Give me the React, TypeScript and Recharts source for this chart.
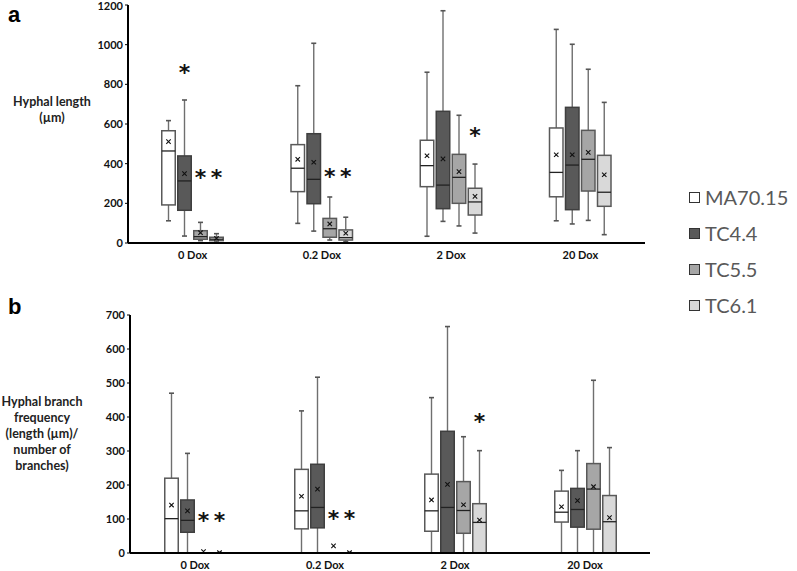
import React from "react";
import { BarChart, Bar, XAxis, YAxis } from "recharts";

const doses = ["0 Dox", "0.2 Dox", "2 Dox", "20 Dox"];
const strains = ["MA70.15", "TC4.4", "TC5.5", "TC6.1"];
const fills = ["#ffffff", "#595959", "#a6a6a6", "#d9d9d9"];

// panel a: hyphal length, [min, q1, median, q3, max] per dose
const lengthMA = [[112, 192, 464, 566, 617], [99, 259, 377, 496, 793], [34, 284, 390, 518, 861], [112, 233, 356, 580, 1077]];
const lengthTC44 = [[35, 165, 313, 439, 721], [60, 198, 321, 551, 1007], [109, 173, 292, 664, 1171], [96, 168, 393, 684, 1002]];
const lengthTC55 = [[12, 19, 32, 62, 104], [15, 29, 72, 124, 232], [86, 200, 331, 447, 644], [114, 262, 422, 568, 876]];
const lengthTC61 = [[5, 12, 19, 29, 47], [8, 15, 27, 66, 130], [50, 141, 207, 276, 398], [42, 185, 256, 442, 709]];
const lengthMeans = [[511, 422, 440, 445], [350, 407, 424, 445], [52, 96, 360, 457], [24, 49, 235, 344]];
const lengthStars = [[null, null, null, null], [877, null, null, null], [350, 355, null, null], [350, 355, 558, null]];
const lengthTicks = [0, 200, 400, 600, 800, 1000, 1200];

// panel b: branch frequency
const branchMA = [[0, 0, 101, 220, 470], [0, 71, 124, 246, 418], [0, 64, 124, 232, 457], [0, 91, 120, 182, 243]];
const branchTC44 = [[0, 61, 96, 156, 293], [0, 74, 134, 261, 517], [0, 0, 134, 358, 666], [0, 76, 128, 190, 301]];
const branchTC55 = [[0, 0, 0, 0, 0], [0, 0, 0, 0, 0], [0, 58, 125, 210, 342], [0, 70, 188, 263, 508]];
const branchTC61 = [[0, 0, 0, 0, 2], [0, 0, 0, 0, 2], [0, 0, 90, 145, 301], [0, 0, 92, 169, 310]];
const branchMeans = [[141, 167, 156, 136], [124, 188, 202, 154], [4, 21, 142, 195], [1, 1, 97, 104]];
const branchStars = [[null, null, null, null], [null, null, null, null], [107, 112, null, null], [107, 112, 398, null]];
const branchTicks = [0, 100, 200, 300, 400, 500, 600, 700];

const font = "Lato, 'Open Sans', sans-serif";

function buildRows(boxes: number[][][], means: number[][], stars: (number | null)[][]) {
  return doses.map((dose, d) => {
    const row: any = { dose };
    strains.forEach((_, s) => {
      const st = boxes[s][d];
      const star = stars[s][d];
      row["s" + s] = { box: st, mean: means[s][d], star, top: Math.max(st[4], means[s][d], star ?? 0) };
    });
    return row;
  });
}

function makeShape(si: number) {
  return (props: any) => {
    const { x, y, width, height, payload } = props;
    const item = payload["s" + si];
    const [lo, q1, med, q3, hi] = item.box;
    const top = item.top;
    const yAt = (v: number) => y + height * (1 - v / top);
    const cx = x + width / 2;
    const stroke = si === 1 ? "#3f3f3f" : "#595959";
    const els: any[] = [];
    if (hi > q3) {
      els.push(<line key="wt" x1={cx} x2={cx} y1={yAt(hi)} y2={yAt(q3)} stroke="#6f6f6f" strokeWidth={1.4} />);
      els.push(<line key="ct" x1={cx - 2.5} x2={cx + 2.5} y1={yAt(hi)} y2={yAt(hi)} stroke="#555" strokeWidth={1.6} />);
    }
    if (q1 > lo) {
      els.push(<line key="wb" x1={cx} x2={cx} y1={yAt(q1)} y2={yAt(lo)} stroke="#6f6f6f" strokeWidth={1.4} />);
      els.push(<line key="cb" x1={cx - 2.5} x2={cx + 2.5} y1={yAt(lo)} y2={yAt(lo)} stroke="#555" strokeWidth={1.6} />);
    }
    if (q3 > q1) {
      els.push(
        <rect key="bx" x={x + 0.75} width={width - 1.5} y={yAt(q3)} height={yAt(q1) - yAt(q3)}
          fill={fills[si]} stroke={stroke} strokeWidth={1.5} />
      );
      els.push(<line key="md" x1={x + 0.75} x2={x + width - 0.75} y1={yAt(med)} y2={yAt(med)} stroke="#222" strokeWidth={1.3} />);
    }
    const my = yAt(item.mean);
    els.push(
      <path key="mn" d={`M${cx - 2.2},${my - 2.2}L${cx + 2.2},${my + 2.2}M${cx - 2.2},${my + 2.2}L${cx + 2.2},${my - 2.2}`}
        stroke="#111" strokeWidth={1.1} />
    );
    if (item.star != null) {
      els.push(
        <text key="st" x={cx} y={yAt(item.star) + 11} textAnchor="middle" fontSize={22} fontWeight="bold"
          fontFamily="'DejaVu Sans', sans-serif" fill="#111">*</text>
      );
    }
    return <g>{els}</g>;
  };
}

function BoxPanel({ rows, ticks, width, height, margin }: any) {
  const max = ticks[ticks.length - 1];
  return (
    <BarChart width={width} height={height} data={rows} margin={margin} barSize={15} barGap={1}>
      <XAxis dataKey="dose" tickLine={false} axisLine={{ stroke: "#000", strokeWidth: 2 }} height={22}
        tick={{ fontSize: 11, fontWeight: 700, fill: "#111", fontFamily: font }} interval={0} />
      <YAxis domain={[0, max]} ticks={ticks} width={50} tickSize={3} tickMargin={2}
        axisLine={{ stroke: "#000", strokeWidth: 2 }} tickLine={{ stroke: "#000" }}
        tick={{ fontSize: 11, fontWeight: 700, fill: "#111", fontFamily: font }} allowDataOverflow />
      {strains.map((name, si) => (
        <Bar key={name} name={name} dataKey={(r: any) => [0, r["s" + si].top]} fill="none"
          shape={makeShape(si)} isAnimationActive={false} />
      ))}
    </BarChart>
  );
}

const labelStyle: React.CSSProperties = {
  position: "absolute",
  textAlign: "center",
  fontFamily: font,
  fontWeight: 700,
  fontSize: 12.5,
  lineHeight: "16px",
  color: "#222",
};

export default function App() {
  const lengthRows = buildRows([lengthMA, lengthTC44, lengthTC55, lengthTC61], lengthMeans, lengthStars);
  const branchRows = buildRows([branchMA, branchTC44, branchTC55, branchTC61], branchMeans, branchStars);
  return (
    <div style={{ position: "absolute", left: 0, top: 0, width: 797, height: 571, background: "#fff", overflow: "hidden" }}>
      <div style={{ position: "absolute", left: 0, top: 0 }}>
        <BoxPanel rows={lengthRows} ticks={lengthTicks} width={660} height={270}
          margin={{ top: 5, right: 15, bottom: 5, left: 78 }} />
      </div>
      <div style={{ position: "absolute", left: 0, top: 300 }}>
        <BoxPanel rows={branchRows} ticks={branchTicks} width={660} height={271}
          margin={{ top: 15, right: 10, bottom: -4, left: 80 }} />
      </div>
      <div style={{ position: "absolute", left: 8, top: 2, fontFamily: "'Liberation Sans', Arial, sans-serif", fontWeight: 700, fontSize: 22 }}>a</div>
      <div style={{ position: "absolute", left: 8, top: 294, fontFamily: "'Liberation Sans', Arial, sans-serif", fontWeight: 700, fontSize: 22 }}>b</div>
      <div style={{ ...labelStyle, left: 2, top: 94, width: 100 }}>Hyphal length<br />(µm)</div>
      <div style={{ ...labelStyle, left: -8, top: 394, width: 100 }}>
        Hyphal branch<br />frequency<br />(length (µm)/<br />number of<br />branches)
      </div>
      <div style={{ position: "absolute", left: 689, top: 179 }}>
        {strains.map((name, i) => (
          <div key={name} style={{ display: "flex", alignItems: "center", height: 36 }}>
            <div style={{ width: 9, height: 9, background: fills[i], border: "1.5px solid #333", marginRight: 5 }} />
            <span style={{ fontFamily: font, fontSize: 20, color: "#595959" }}>{name}</span>
          </div>
        ))}
      </div>
    </div>
  );
}
